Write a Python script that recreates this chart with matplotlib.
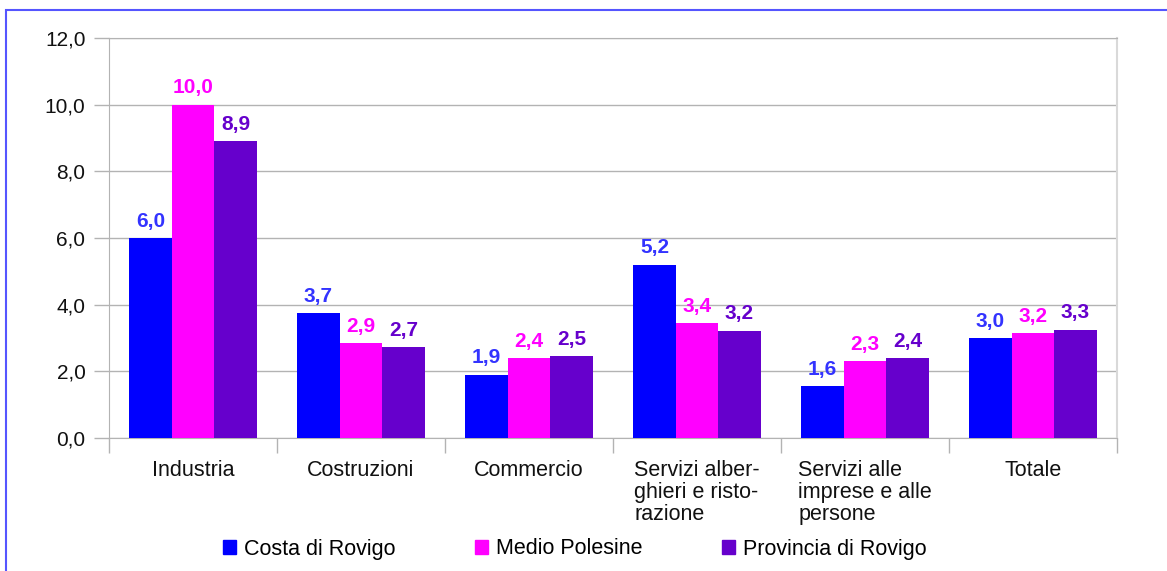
import matplotlib
matplotlib.use("Agg")
import matplotlib.pyplot as plt
import matplotlib.patches as mpatches
import numpy as np

plt.rcParams['font.family'] = ['Liberation Sans', 'DejaVu Sans']

categories = ["Industria", "Costruzioni", "Commercio",
              "Servizi alber-\nghieri e risto-\nrazione",
              "Servizi alle\nimprese e alle\npersone", "Totale"]
series_names = ["Costa di Rovigo", "Medio Polesine", "Provincia di Rovigo"]
costa = [6.0, 3.75, 1.9, 5.2, 1.55, 3.0]
medio = [10.0, 2.85, 2.4, 3.45, 2.3, 3.15]
provincia = [8.9, 2.72, 2.45, 3.22, 2.4, 3.25]
labels_costa = ["6,0", "3,7", "1,9", "5,2", "1,6", "3,0"]
labels_medio = ["10,0", "2,9", "2,4", "3,4", "2,3", "3,2"]
labels_prov = ["8,9", "2,7", "2,5", "3,2", "2,4", "3,3"]
yticks = [0, 2, 4, 6, 8, 10, 12]
ytick_labels = ["0,0", "2,0", "4,0", "6,0", "8,0", "10,0", "12,0"]

bar_colors = ["#0000FF", "#FF00FF", "#6600CC"]
label_colors = ["#3333FF", "#FF00FF", "#6600CC"]

fig = plt.figure(figsize=(11.67, 5.71), dpi=100)
ax = fig.add_axes([109/1167, 1-438/571, (1117-109)/1167, (438-38)/571])

x = np.arange(len(categories))
w = 0.253
allvals = [costa, medio, provincia]
alllabels = [labels_costa, labels_medio, labels_prov]
for i, (vals, labs) in enumerate(zip(allvals, alllabels)):
    pos = x + (i - 1) * w
    ax.bar(pos, vals, width=w, color=bar_colors[i], label=series_names[i], zorder=3)
    for p, v, l in zip(pos, vals, labs):
        ax.text(p, v + 0.22, l, ha='center', va='bottom', fontsize=15,
                fontweight='bold', color=label_colors[i], zorder=4)

ax.set_xlim(-0.5, len(categories) - 0.5)
ax.set_ylim(0, 12)
ax.set_yticks(yticks)
ax.set_yticklabels(ytick_labels, fontsize=15, color='#111111')
ax.yaxis.grid(True, color='#b3b3b3', linewidth=1, zorder=0)

# category boundary ticks
ax.set_xticks(np.arange(len(categories) + 1) - 0.5)
ax.set_xticklabels([])
ax.tick_params(axis='x', length=11, color='#b3b3b3', width=1)
ax.tick_params(axis='y', length=11, color='#b3b3b3', width=1, pad=6)
for xi, c in zip(x, categories):
    ax.text(xi, -0.66, c, ha='center', va='top', fontsize=15.5,
            multialignment='left', linespacing=1.05, color='#111111')

for s in ['left', 'bottom', 'top']:
    ax.spines[s].set_color('#b3b3b3')
ax.spines['right'].set_color('#d9d9d9')
ax.spines['right'].set_linewidth(1.5)

handles = [mpatches.Patch(color=c) for c in bar_colors]
fig.legend(handles, series_names, loc='center', bbox_to_anchor=(575/1167, 1-549/571),
           ncol=3, frameon=False, fontsize=15.5, handlelength=0.6, handleheight=0.6,
           handletextpad=0.37, columnspacing=3.7)

# outer frame
fig.add_artist(mpatches.Rectangle((6/1167, -0.05), 1.1, 1 - 10/571 + 0.05,
                                  transform=fig.transFigure, fill=False,
                                  edgecolor='#5555FF', linewidth=1.5))

fig.savefig("out.png", dpi=100)
